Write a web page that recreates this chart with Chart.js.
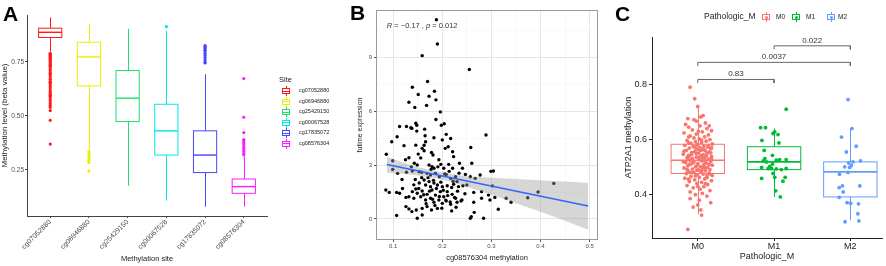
<!DOCTYPE html>
<html>
<head>
<meta charset="utf-8">
<script src="https://cdn.jsdelivr.net/npm/chart.js@4.4.0/dist/chart.umd.min.js"></script>
<style>
  body { margin: 0; background: #fff; font-family: "Liberation Sans", Arial, Helvetica, sans-serif; }
  #wrap { position: relative; width: 886px; height: 266px; overflow: hidden; background: #fff; }
  canvas { position: absolute; top: 0; }
  .tag { position: absolute; font-weight: bold; font-size: 21px; line-height: 21px; color: #000; }
  .lg { position: absolute; color: #222; white-space: nowrap; line-height: 1; }
  .key { position: absolute; width: 8px; height: 6px; border: 1px solid; box-sizing: border-box; background: #fff; }
  .key::before, .key::after { content: ""; position: absolute; left: calc(50% - 0.5px); width: 1px; height: 2px; background: currentColor; }
  .key::before { top: -3px; }
  .key::after { bottom: -3px; }
  .key i { position: absolute; left: 0; right: 0; top: calc(50% - 0.5px); height: 1px; background: currentColor; }
  .key b { position: absolute; left: calc(50% - 1.5px); top: calc(50% - 1.5px); width: 3px; height: 3px; border-radius: 50%; background: currentColor; }
</style>
</head>
<body>
<div id="wrap">
  <canvas id="chartA" width="345" height="266" style="left:0"></canvas>
  <canvas id="chartB" width="260" height="266" style="left:345px"></canvas>
  <canvas id="chartC" width="281" height="266" style="left:605px"></canvas>
  <div class="tag" style="left:3px;top:3px">A</div>
  <div class="tag" style="left:350px;top:2px">B</div>
  <div class="tag" style="left:615px;top:3px">C</div>
  <div id="legendA"></div>
  <div id="legendC"></div>
</div>
<script>
const fontFam = '"Liberation Sans", Arial, Helvetica, sans-serif';
Chart.defaults.font.family = fontFam;

// ---- Panel A: methylation level of each CpG site ----
const sites = ['cg07052880', 'cg06946880', 'cg25429150', 'cg00067528', 'cg17835072', 'cg08576304'];
const siteColors = ['#ff1a1a', '#eded00', '#1ee06a', '#00e8e8', '#4646ff', '#ff1aff'];
const siteLow = [0.798, 0.343, 0.177, 0.108, 0.080, 0.080];
const siteQ1 = [0.863, 0.639, 0.474, 0.319, 0.238, 0.142];
const siteMedian = [0.887, 0.773, 0.582, 0.431, 0.319, 0.173];
const siteQ3 = [0.906, 0.841, 0.710, 0.554, 0.431, 0.208];
const siteHigh = [0.955, 0.926, 0.903, 0.895, 0.693, 0.312];
const siteOutliers = [
  [0.79, 0.785, 0.78, 0.775, 0.77, 0.765, 0.76, 0.755, 0.75, 0.745, 0.74, 0.735, 0.73, 0.72, 0.71, 0.70,
   0.695, 0.69, 0.68, 0.67, 0.66, 0.655, 0.65, 0.64, 0.63, 0.62, 0.61, 0.60, 0.595, 0.59, 0.58, 0.57,
   0.56, 0.55, 0.54, 0.525, 0.48, 0.37],
  [0.335, 0.325, 0.315, 0.305, 0.295, 0.285, 0.245],
  [],
  [0.913],
  [0.825, 0.82, 0.815, 0.81, 0.805, 0.80, 0.79, 0.78, 0.77, 0.76, 0.75, 0.745],
  [0.673, 0.494, 0.423, 0.39, 0.385, 0.375, 0.365, 0.355, 0.345, 0.335, 0.325, 0.32]
];
const yTicksA = [0.25, 0.5, 0.75];

// ---- Panel B: futime expression vs cg08576304 methylation ----
const methylation = [
  0.188, 0.190, 0.159, 0.255, 0.170, 0.139, 0.184, 0.151, 0.173, 0.187, 0.132, 0.168, 0.144, 0.196, 0.187,
  0.204, 0.198, 0.113, 0.127, 0.136, 0.146, 0.148, 0.148, 0.164, 0.138, 0.108, 0.097, 0.086, 0.165, 0.166,
  0.183, 0.208, 0.217, 0.289, 0.206, 0.212, 0.159, 0.163, 0.146, 0.122, 0.151, 0.132, 0.125, 0.181, 0.221,
  0.258, 0.223, 0.099, 0.143, 0.149, 0.173, 0.179, 0.183, 0.197, 0.203, 0.213, 0.235, 0.241, 0.260, 0.221,
  0.099, 0.109, 0.127, 0.139, 0.153, 0.158, 0.169, 0.176, 0.186, 0.194, 0.208, 0.217, 0.227, 0.230, 0.247,
  0.257, 0.267, 0.277, 0.304, 0.163, 0.173, 0.183, 0.153, 0.166, 0.176, 0.190, 0.200, 0.210, 0.223, 0.233,
  0.250, 0.264, 0.280, 0.294, 0.302, 0.085, 0.092, 0.107, 0.113, 0.119, 0.139, 0.146, 0.149, 0.159, 0.169,
  0.179, 0.186, 0.196, 0.203, 0.210, 0.220, 0.227, 0.230, 0.132, 0.142, 0.156, 0.166, 0.176, 0.183, 0.193,
  0.200, 0.208, 0.217, 0.240, 0.264, 0.280, 0.297, 0.307, 0.126, 0.132, 0.138, 0.147, 0.159, 0.169, 0.178,
  0.190, 0.219, 0.107, 0.149, 0.159, 0.259, 0.265, 0.284, 0.257, 0.314, 0.427, 0.395, 0.374, 0.330, 0.340,
  0.299, 0.145, 0.152, 0.158, 0.162, 0.167, 0.171, 0.174, 0.177, 0.180, 0.182, 0.185, 0.188, 0.191, 0.194,
  0.197, 0.199, 0.202, 0.205, 0.207, 0.211, 0.214, 0.216, 0.219, 0.222, 0.225, 0.228, 0.231, 0.234, 0.238,
  0.242, 0.156, 0.163, 0.178, 0.193, 0.200, 0.137, 0.142, 0.126, 0.118, 0.246
];
const futime = [
  11.09, 9.74, 9.09, 8.32, 7.65, 7.33, 7.11, 6.93, 6.83, 6.63, 6.50, 6.32, 6.21, 5.96, 5.54,
  5.30, 5.22, 5.15, 5.15, 5.08, 5.33, 5.22, 4.89, 5.00, 5.04, 4.58, 4.30, 3.60, 4.63, 4.30,
  4.52, 4.71, 4.48, 4.67, 3.93, 4.02, 3.93, 3.80, 4.11, 4.08, 3.61, 3.41, 3.30, 3.56, 3.74,
  3.98, 3.47, 3.24, 3.10, 3.00, 3.00, 2.91, 2.82, 3.04, 2.82, 3.04, 3.10, 2.82, 3.10, 2.82,
  2.76, 2.54, 2.60, 2.67, 2.63, 2.30, 2.54, 2.45, 2.54, 2.35, 2.48, 2.26, 2.35, 2.08, 2.48,
  2.35, 2.26, 2.45, 2.67, 2.17, 2.08, 2.00, 2.00, 1.89, 1.80, 1.89, 1.80, 1.85, 1.93, 1.80,
  1.89, 1.48, 1.52, 1.33, 1.84, 1.61, 1.48, 1.48, 1.43, 1.70, 1.52, 1.67, 1.43, 1.56, 1.37,
  1.61, 1.33, 1.52, 1.24, 1.52, 1.37, 1.15, 0.93, 1.24, 1.15, 1.24, 1.06, 1.15, 0.93, 1.06,
  0.87, 1.00, 0.82, 1.06, 0.93, 1.15, 1.06, 1.20, 0.69, 0.56, 0.41, 0.50, 0.59, 0.69, 0.50,
  0.59, 0.45, 0.19, 0.04, 0.22, 0.13, 0.37, 0.04, 0.04, 0.54, 1.98, 1.50, 1.18, 1.15, 0.93,
  2.65, 2.20, 1.70, 2.60, 1.35, 0.85, 2.30, 1.55, 2.75, 1.10, 2.15, 0.75, 1.70, 2.90, 1.25,
  2.05, 0.60, 1.60, 2.50, 1.05, 1.30, 2.65, 0.95, 1.75, 2.10, 1.20, 0.65, 1.55, 2.55, 1.00,
  1.85, 3.40, 4.10, 3.70, 3.30, 4.40, 2.90, 1.90, 1.20, 2.20, 1.40
];
const fitX = [0.087, 0.497];
const fitY = [3.03, 0.72];
const bandX = [0.087, 0.12, 0.15, 0.19, 0.22, 0.25, 0.30, 0.35, 0.40, 0.45, 0.497];
const bandUpper = [3.47, 3.15, 2.88, 2.65, 2.50, 2.38, 2.30, 2.22, 2.15, 2.08, 2.02];
const bandLower = [2.57, 2.52, 2.42, 2.25, 2.05, 1.80, 1.35, 0.88, 0.40, -0.10, -0.60];
const bXTicks = [0.1, 0.2, 0.3, 0.4, 0.5];
const bXMinor = [0.15, 0.25, 0.35, 0.45];
const bYTicks = [0, 3, 6, 9];
const bYMinor = [1.5, 4.5, 7.5, 10.5];
const corText = [['R', true], [' = \u22120.17 , ', false], ['p', true], [' = 0.012', false]];

// ---- Panel C: ATP2A1 methylation by Pathologic_M ----
const groups = ['M0', 'M1', 'M2'];
const groupColors = ['#F8766D', '#00BA38', '#619CFF'];
const groupLow = [0.329, 0.392, 0.307];
const groupQ1 = [0.477, 0.491, 0.392];
const groupMedian = [0.525, 0.519, 0.483];
const groupQ3 = [0.583, 0.574, 0.519];
const groupHigh = [0.720, 0.640, 0.640];
const m0Values = [
  0.79, 0.748, 0.72, 0.687, 0.682, 0.676, 0.672, 0.667, 0.66, 0.655, 0.65, 0.645, 0.64, 0.635, 0.632,
  0.628, 0.624, 0.62, 0.617, 0.613, 0.61, 0.606, 0.602, 0.60, 0.597, 0.594, 0.592, 0.589, 0.586, 0.584,
  0.582, 0.579, 0.577, 0.575, 0.573, 0.571, 0.569, 0.567, 0.565, 0.563, 0.561, 0.559, 0.557, 0.555, 0.553,
  0.551, 0.549, 0.547, 0.545, 0.543, 0.541, 0.539, 0.537, 0.535, 0.533, 0.531, 0.529, 0.527, 0.525, 0.523,
  0.521, 0.519, 0.517, 0.515, 0.513, 0.511, 0.509, 0.507, 0.505, 0.503, 0.501, 0.499, 0.497, 0.495, 0.493,
  0.491, 0.489, 0.487, 0.485, 0.483, 0.481, 0.479, 0.477, 0.475, 0.472, 0.469, 0.466, 0.463, 0.46, 0.457,
  0.454, 0.451, 0.448, 0.445, 0.441, 0.437, 0.433, 0.429, 0.425, 0.42, 0.415, 0.41, 0.405, 0.40, 0.395,
  0.386, 0.38, 0.371, 0.363, 0.355, 0.345, 0.326, 0.274,
  0.598, 0.588, 0.578, 0.572, 0.566, 0.558, 0.552, 0.546, 0.54, 0.534, 0.528, 0.522, 0.516, 0.51, 0.504,
  0.498, 0.492, 0.486, 0.48, 0.474, 0.468, 0.462, 0.456, 0.5, 0.52, 0.54, 0.56, 0.58, 0.61, 0.63,
  0.65, 0.44, 0.43, 0.47, 0.53, 0.55, 0.57, 0.49, 0.51, 0.535
];
const m0Jitter = [
  -0.10, -0.04, 0.0, 0.07, 0.04, -0.13, -0.05, -0.02, 0.10, -0.16, 0.03, -0.12, 0.12, -0.07, 0.18,
  0.06, -0.18, -0.02, 0.14, -0.10, 0.09, -0.05, 0.02, 0.16, -0.14, 0.11, -0.03, 0.05, -0.09, 0.19,
  0.0, -0.17, 0.08, -0.06, 0.13, 0.03, -0.11, 0.17, -0.01, 0.06, -0.15, 0.10, -0.04, 0.15, -0.08,
  0.01, 0.12, -0.19, 0.07, -0.12, 0.04, 0.18, -0.02, -0.14, 0.09, -0.07, 0.14, 0.02, -0.10, 0.05,
  0.17, -0.05, -0.16, 0.11, 0.0, -0.09, 0.08, 0.19, -0.13, 0.03, -0.03, 0.13, -0.18, 0.06, -0.07,
  0.16, -0.01, 0.10, -0.12, 0.04, -0.05, 0.15, -0.15, 0.07, -0.02, 0.12, -0.09, 0.02, -0.17, 0.09,
  -0.04, 0.18, -0.11, 0.05, -0.01, 0.13, -0.14, 0.08, -0.06, 0.03, 0.16, -0.10, 0.06, -0.03, 0.12,
  -0.10, 0.02, 0.17, 0.0, -0.06, 0.04, 0.05, -0.13,
  0.05, -0.12, 0.14, -0.04, 0.08, -0.18, 0.17, -0.08, 0.11, 0.01, -0.13, 0.09, -0.06, 0.15, -0.02,
  0.10, -0.14, 0.05, -0.08, 0.17, -0.03, 0.12, -0.12, 0.07, -0.19, -0.11, 0.03, -0.01, -0.12, 0.01,
  0.15, 0.10, 0.0, 0.19, 0.18, -0.02, 0.18, 0.01, -0.11, 0.06
];
const m1Values = [0.710, 0.643, 0.643, 0.622, 0.628, 0.618, 0.597, 0.588, 0.561, 0.543, 0.531, 0.523, 0.519,
  0.525, 0.527, 0.527, 0.499, 0.495, 0.495, 0.494, 0.491, 0.495, 0.477, 0.463, 0.463, 0.459, 0.449, 0.414,
  0.392, 0.511, 0.503];
const m1Jitter = [0.159, -0.176, -0.112, -0.013, 0.009, 0.052, -0.159, 0.064, -0.129, -0.021, -0.12, -0.142,
  -0.099, 0.03, 0.073, 0.159, -0.163, -0.077, -0.034, 0.03, 0.094, 0.159, -0.013, 0.009, 0.146, -0.163, 0.116,
  0.021, 0.082, -0.02, -0.056];
const m2Values = [0.745, 0.640, 0.609, 0.576, 0.555, 0.515, 0.519, 0.523, 0.501, 0.499, 0.506, 0.474, 0.481,
  0.426, 0.432, 0.432, 0.410, 0.390, 0.371, 0.369, 0.367, 0.331, 0.302, 0.305];
const m2Jitter = [-0.03, 0.021, -0.116, 0.077, -0.052, -0.021, 0.034, 0.133, -0.073, -0.009, 0.013, -0.142,
  -0.03, -0.146, -0.103, 0.124, -0.094, -0.146, -0.043, 0.004, 0.107, 0.099, -0.069, 0.112];
const pairs = [[0, 1], [0, 2], [1, 2]];
const pLabels = ['0.83', '0.0037', '0.022'];
const bracketY = [0.818, 0.880, 0.940];
const bracketTip = 0.013;
const yTicksC = [0.4, 0.6, 0.8];

// draw box + whiskers + median for each group, using the chart scales
function drawBoxes(chart, st, colors, width, lw, medLw) {
  const { ctx, scales: { x, y } } = chart;
  ctx.save();
  st.q1.forEach((q1, i) => {
    const cx = Math.round(x.getPixelForValue(i)) + 0.5;
    const x0 = x.getPixelForValue(i - width / 2);
    const x1 = x.getPixelForValue(i + width / 2);
    const yq1 = y.getPixelForValue(q1);
    const yq3 = y.getPixelForValue(st.q3[i]);
    ctx.strokeStyle = colors[i];
    ctx.lineWidth = lw;
    ctx.beginPath();
    ctx.moveTo(cx, y.getPixelForValue(st.hi[i]));
    ctx.lineTo(cx, yq3);
    ctx.moveTo(cx, yq1);
    ctx.lineTo(cx, y.getPixelForValue(st.lo[i]));
    ctx.stroke();
    ctx.fillStyle = '#fff';
    ctx.fillRect(x0, yq3, x1 - x0, yq1 - yq3);
    ctx.strokeRect(x0, yq3, x1 - x0, yq1 - yq3);
    const ym = y.getPixelForValue(st.med[i]);
    ctx.lineWidth = medLw;
    ctx.beginPath();
    ctx.moveTo(x0, ym);
    ctx.lineTo(x1, ym);
    ctx.stroke();
  });
  ctx.restore();
}

const statsA = { lo: siteLow, q1: siteQ1, med: siteMedian, q3: siteQ3, hi: siteHigh };
const statsC = { lo: groupLow, q1: groupQ1, med: groupMedian, q3: groupQ3, hi: groupHigh };

const fixedTicks = vals => s => { s.ticks = vals.map(v => ({ value: v })); };
const noTips = { enabled: false };

// Panel A chart
new Chart(document.getElementById('chartA'), {
  type: 'scatter',
  data: {
    datasets: sites.map((s, i) => ({
      label: s,
      data: siteOutliers[i].map(v => ({ x: i, y: v })),
      backgroundColor: siteColors[i],
      borderWidth: 0,
      pointRadius: 1.6
    }))
  },
  options: {
    responsive: false, animation: false, events: [],
    layout: { padding: { top: 15, right: 78, left: 0, bottom: 0 } },
    plugins: { legend: { display: false }, tooltip: noTips },
    scales: {
      x: {
        type: 'linear', min: -0.6, max: 5.6,
        afterBuildTicks: fixedTicks(sites.map((s, i) => i)),
        afterFit: s => { s.height = 50; },
        ticks: { callback: v => sites[v], minRotation: 45, maxRotation: 45, autoSkip: false,
                 font: { size: 7 }, color: '#4d4d4d', padding: 0 },
        grid: { drawOnChartArea: false, tickLength: 2, tickColor: '#444' },
        border: { color: '#444', width: 1 },
        title: { display: true, text: 'Methylation site', font: { size: 7.5 }, color: '#222',
                 padding: { top: 0, bottom: 3 } }
      },
      y: {
        min: 0.037, max: 0.967,
        afterBuildTicks: fixedTicks(yTicksA),
        afterFit: s => { s.width = 27; },
        ticks: { callback: v => v.toFixed(2), font: { size: 6.5 }, color: '#4d4d4d', padding: 1 },
        grid: { drawOnChartArea: false, tickLength: 2, tickColor: '#444' },
        border: { color: '#444', width: 1 },
        title: { display: true, text: 'Methylation level (beta value)', font: { size: 8 }, color: '#222',
                 padding: { top: 0, bottom: 0 } }
      }
    }
  },
  plugins: [{ id: 'boxesA', beforeDatasetsDraw: c => drawBoxes(c, statsA, siteColors, 0.6, 1, 1.4) }]
});

// Panel B chart
const isMajor = (v, majors) => majors.some(m => Math.abs(m - v) < 1e-9);
new Chart(document.getElementById('chartB'), {
  type: 'scatter',
  data: {
    datasets: [
      { type: 'line', data: bandX.map((x, i) => ({ x, y: bandUpper[i] })), borderWidth: 0, pointRadius: 0,
        fill: false, order: 1 },
      { type: 'line', data: bandX.map((x, i) => ({ x, y: bandLower[i] })), borderWidth: 0, pointRadius: 0,
        fill: '-1', backgroundColor: 'rgba(153,153,153,0.4)', order: 1 },
      { type: 'line', data: fitX.map((x, i) => ({ x, y: fitY[i] })), borderColor: '#3366ff', borderWidth: 1.7,
        pointRadius: 0, fill: false, order: 0 },
      { data: methylation.map((x, i) => ({ x, y: futime[i] })), backgroundColor: '#000', borderWidth: 0,
        pointRadius: 1.7, order: 2 }
    ]
  },
  options: {
    responsive: false, animation: false, events: [],
    layout: { padding: { top: 10, right: 7, left: 0, bottom: 0 } },
    plugins: { legend: { display: false }, tooltip: noTips },
    scales: {
      x: {
        type: 'linear', min: 0.065, max: 0.517,
        afterBuildTicks: fixedTicks(bXTicks.concat(bXMinor).sort((a, b) => a - b)),
        afterFit: s => { s.height = 26; },
        ticks: { callback: v => isMajor(v, bXTicks) ? String(v) : '', font: { size: 6 }, color: '#4d4d4d', padding: 1 },
        grid: { color: c => isMajor(c.tick.value, bXTicks) ? '#e6e6e6' : '#f3f3f3',
                lineWidth: c => isMajor(c.tick.value, bXTicks) ? 1 : 0.6,
                tickColor: c => isMajor(c.tick.value, bXTicks) ? '#555' : 'rgba(0,0,0,0)', tickLength: 2 },
        border: { display: false },
        title: { display: true, text: 'cg08576304 methylation', font: { size: 7.5 }, color: '#222',
                 padding: { top: 0, bottom: 4 } }
      },
      y: {
        min: -1.17, max: 11.63,
        afterBuildTicks: fixedTicks(bYTicks.concat(bYMinor).sort((a, b) => a - b)),
        afterFit: s => { s.width = 31; },
        ticks: { callback: v => isMajor(v, bYTicks) ? String(v) : '', font: { size: 6 }, color: '#4d4d4d', padding: 2 },
        grid: { color: c => isMajor(c.tick.value, bYTicks) ? '#e6e6e6' : '#f3f3f3',
                lineWidth: c => isMajor(c.tick.value, bYTicks) ? 1 : 0.6,
                tickColor: c => isMajor(c.tick.value, bYTicks) ? '#555' : 'rgba(0,0,0,0)', tickLength: 2 },
        border: { display: false },
        title: { display: true, text: 'futime expression', font: { size: 7 }, color: '#222',
                 padding: { top: 11, bottom: 0 } }
      }
    }
  },
  plugins: [{
    id: 'corLabel',
    afterDraw(chart) {
      const { ctx, chartArea: a, scales: { x, y } } = chart;
      ctx.save();
      ctx.strokeStyle = '#9a9a9a';
      ctx.lineWidth = 1;
      ctx.strokeRect(a.left + 0.5, a.top + 0.5, a.width - 1, a.height - 1);
      // stat_cor label, left aligned near the top left of the panel
      let px = x.getPixelForValue(0.087);
      const py = y.getPixelForValue(10.72);
      ctx.fillStyle = '#333';
      ctx.textBaseline = 'middle';
      corText.forEach(([t, it]) => {
        ctx.font = (it ? 'italic ' : '') + '7.5px ' + fontFam;
        ctx.fillText(t, px, py);
        px += ctx.measureText(t).width;
      });
      ctx.restore();
    }
  }]
});

// Panel C chart
const groupPoints = [[m0Jitter, m0Values], [m1Jitter, m1Values], [m2Jitter, m2Values]];
new Chart(document.getElementById('chartC'), {
  type: 'scatter',
  data: {
    datasets: groupPoints.map(([jit, vals], g) => ({
      data: vals.map((v, i) => ({ x: g + jit[i], y: v })),
      backgroundColor: groupColors[g], borderWidth: 0, pointRadius: 1.9, order: 1
    })).concat(pairs.map((p, i) => ({
      data: [{ x: p[0], y: bracketY[i] - bracketTip }, { x: p[0], y: bracketY[i] },
             { x: p[1], y: bracketY[i] }, { x: p[1], y: bracketY[i] - bracketTip }],
      showLine: true, borderColor: '#666', borderWidth: 1, pointRadius: 0, order: 0
    })))
  },
  options: {
    responsive: false, animation: false, events: [],
    layout: { padding: { top: 37, right: 0, left: 0, bottom: 0 } },
    plugins: { legend: { display: false }, tooltip: noTips },
    scales: {
      x: {
        type: 'linear', min: -0.6, max: 2.415,
        afterBuildTicks: fixedTicks([0, 1, 2]),
        afterFit: s => { s.height = 28; },
        ticks: { callback: v => groups[v], font: { size: 9 }, color: '#222', padding: 0 },
        grid: { drawOnChartArea: false, tickLength: 3, tickColor: '#222' },
        border: { color: '#222', width: 1 },
        title: { display: true, text: 'Pathologic_M', font: { size: 9 }, color: '#222',
                 padding: { top: 0, bottom: 4 } }
      },
      y: {
        min: 0.243, max: 0.972,
        afterBuildTicks: fixedTicks(yTicksC),
        afterFit: s => { s.width = 47; },
        ticks: { callback: v => v.toFixed(1), font: { size: 9 }, color: '#222', padding: 2 },
        grid: { drawOnChartArea: false, tickLength: 3, tickColor: '#222' },
        border: { color: '#222', width: 1 },
        title: { display: true, text: 'ATP2A1 methylation', font: { size: 9 }, color: '#222',
                 padding: { top: 18, bottom: 0 } }
      }
    }
  },
  plugins: [
    { id: 'boxesC', beforeDatasetsDraw: c => drawBoxes(c, statsC, groupColors, 0.7, 1, 1.6) },
    {
      id: 'pvalues',
      afterDatasetsDraw(chart) {
        const { ctx, scales: { x, y } } = chart;
        ctx.save();
        ctx.font = '8px ' + fontFam;
        ctx.fillStyle = '#333';
        ctx.textAlign = 'center';
        ctx.textBaseline = 'bottom';
        pairs.forEach((p, i) => {
          ctx.fillText(pLabels[i], x.getPixelForValue((p[0] + p[1]) / 2), y.getPixelForValue(bracketY[i]) - 1.5);
        });
        ctx.restore();
      }
    }
  ]
});

// legends (ggplot style keys)
function addText(parent, text, left, top, size) {
  const d = document.createElement('div');
  d.className = 'lg';
  d.textContent = text;
  d.style.left = left + 'px';
  d.style.top = top + 'px';
  d.style.fontSize = size + 'px';
  parent.appendChild(d);
}
function addKey(parent, color, left, top, dot) {
  const k = document.createElement('div');
  k.className = 'key';
  k.style.color = color;
  k.style.left = left + 'px';
  k.style.top = top + 'px';
  k.innerHTML = dot ? '<b></b>' : '<i></i>';
  parent.appendChild(k);
}
const legA = document.getElementById('legendA');
addText(legA, 'Site', 279, 75.5, 7.5);
sites.forEach((s, i) => {
  const cy = 91 + i * 10.5;
  addKey(legA, siteColors[i], 282, cy - 3, false);
  addText(legA, s, 299, cy - 2.8, 5.5);
});
const legC = document.getElementById('legendC');
addText(legC, 'Pathologic_M', 704, 12, 8.5);
[[762, 776], [792, 806], [827, 838]].forEach(([kx, tx], i) => {
  addKey(legC, groupColors[i], kx, 14, true);
  addText(legC, groups[i], tx, 13.5, 6.5);
});
</script>
</body>
</html>
